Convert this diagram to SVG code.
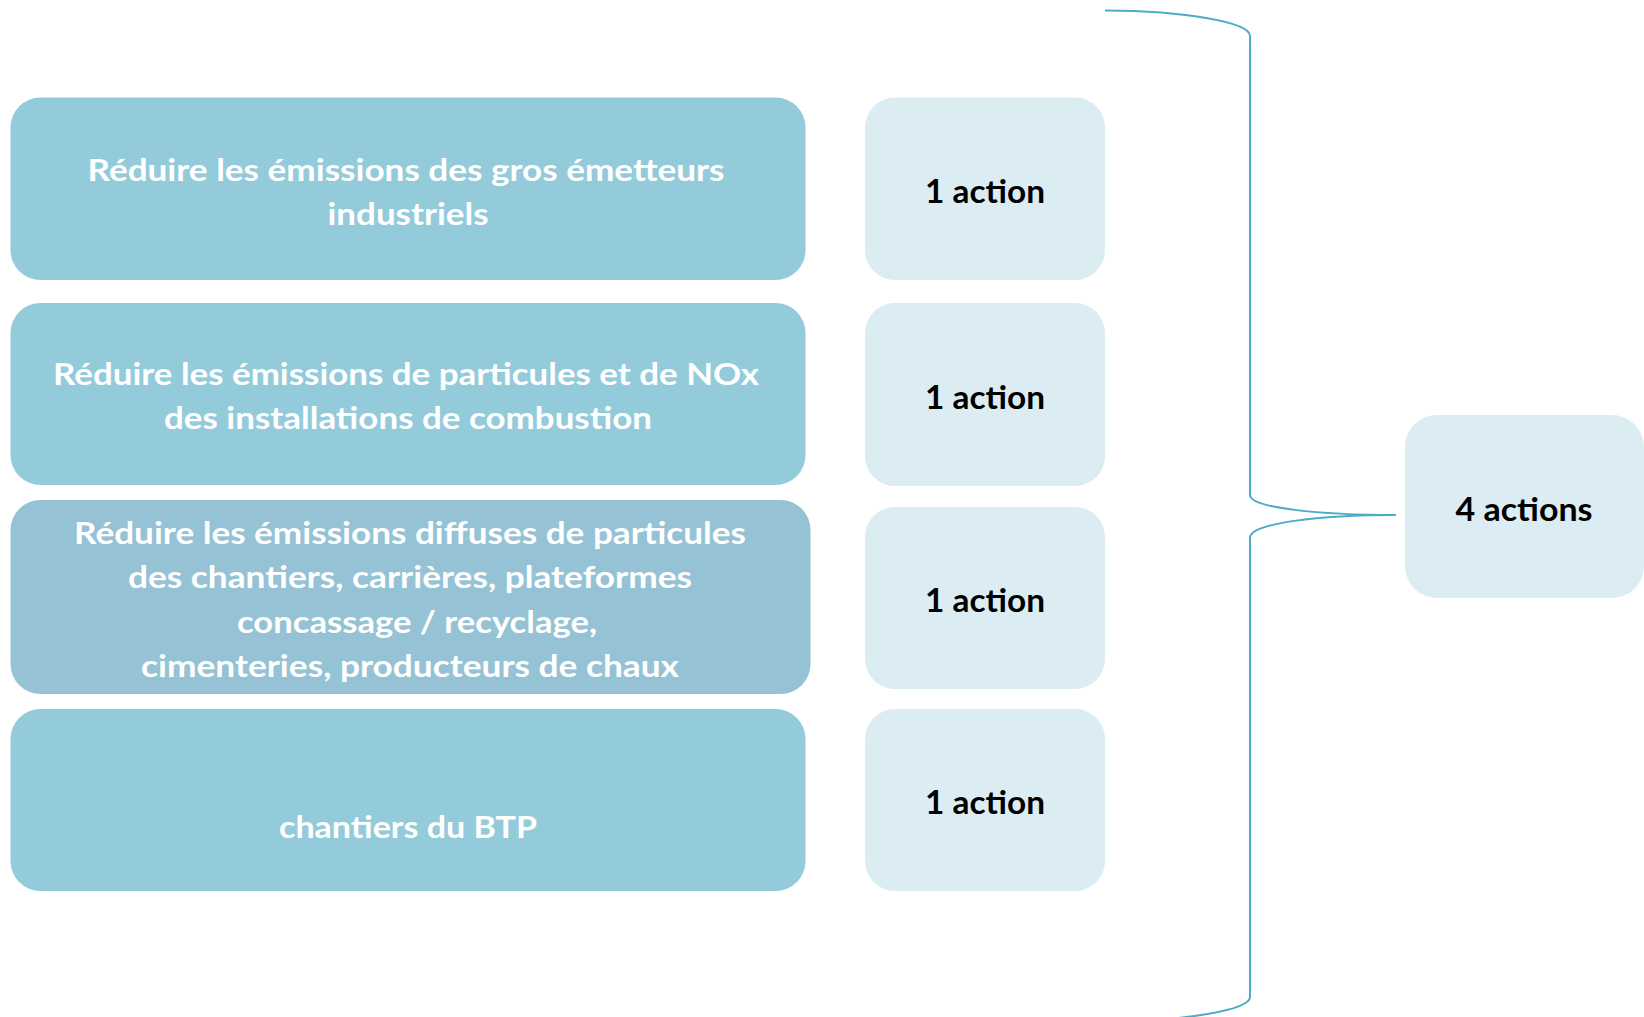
<svg xmlns="http://www.w3.org/2000/svg" width="1644" height="1017" viewBox="0 0 1644 1017">
<style>
.obj{fill:#94CBDB}
.obj3{fill:#95C3D5}
.act{fill:#DBEDF3}
.wt{font-family:Lato,"Open Sans","Liberation Sans",sans-serif;font-weight:bold;font-size:31px;fill:#FFFFFF;text-anchor:middle}
.bt{font-family:Lato,"Open Sans","Liberation Sans",sans-serif;font-weight:bold;font-size:32px;fill:#000000;text-anchor:middle}
.brace{fill:none;stroke:#4BACC6;stroke-width:2}
</style>
<rect width="1644" height="1017" fill="#FFFFFF"/>
<g id="obj1">
<rect class="obj" x="10.5" y="97.5" width="795" height="182.5" rx="30" ry="30"/>
<text class="wt" x="406" y="181" textLength="637" lengthAdjust="spacingAndGlyphs">Réduire les émissions des gros émetteurs</text>
<text class="wt" x="408" y="225" textLength="161" lengthAdjust="spacingAndGlyphs">industriels</text>
</g>
<g id="obj2">
<rect class="obj" x="10.5" y="303" width="795" height="182" rx="30" ry="30"/>
<text class="wt" x="406" y="385" textLength="706" lengthAdjust="spacingAndGlyphs">Réduire les émissions de particules et de NOx</text>
<text class="wt" x="408" y="429" textLength="488" lengthAdjust="spacingAndGlyphs">des installations de combustion</text>
</g>
<g id="obj3">
<rect class="obj3" x="10.5" y="500" width="800" height="194" rx="30" ry="30"/>
<text class="wt" x="410" y="544" textLength="672" lengthAdjust="spacingAndGlyphs">Réduire les émissions diffuses de particules</text>
<text class="wt" x="410" y="588" textLength="564" lengthAdjust="spacingAndGlyphs">des chantiers, carrières, plateformes</text>
<text class="wt" x="417" y="633" textLength="360" lengthAdjust="spacingAndGlyphs">concassage / recyclage,</text>
<text class="wt" x="410" y="677" textLength="538" lengthAdjust="spacingAndGlyphs">cimenteries, producteurs de chaux</text>
</g>
<g id="obj4">
<rect class="obj" x="10.5" y="709" width="795" height="182" rx="30" ry="30"/>
<text class="wt" x="408" y="838" textLength="258" lengthAdjust="spacingAndGlyphs">chantiers du BTP</text>
</g>
<g id="act1">
<rect class="act" x="865" y="97.5" width="240" height="182.5" rx="30" ry="30"/>
<text class="bt" x="985" y="203" textLength="120" lengthAdjust="spacingAndGlyphs">1 action</text>
</g>
<g id="act2">
<rect class="act" x="865" y="303" width="240" height="183" rx="30" ry="30"/>
<text class="bt" x="985" y="409" textLength="120" lengthAdjust="spacingAndGlyphs">1 action</text>
</g>
<g id="act3">
<rect class="act" x="865" y="507" width="240" height="182" rx="30" ry="30"/>
<text class="bt" x="985" y="612" textLength="120" lengthAdjust="spacingAndGlyphs">1 action</text>
</g>
<g id="act4">
<rect class="act" x="865" y="709" width="240" height="182" rx="30" ry="30"/>
<text class="bt" x="985" y="814" textLength="120" lengthAdjust="spacingAndGlyphs">1 action</text>
</g>
<g id="total">
<rect class="act" x="1405" y="415" width="239" height="183" rx="32" ry="32"/>
<text class="bt" x="1524" y="521" textLength="137" lengthAdjust="spacingAndGlyphs">4 actions</text>
</g>
<g id="connectors">
<path class="brace" d="M1105,10.5 C1185,11 1250,22 1250,36 L1250,495 C1250,508 1320,515 1396,515 C1320,515 1250,523 1250,538 L1250,997 C1250,1010 1185,1021 1105,1022"/>
</g>
</svg>
